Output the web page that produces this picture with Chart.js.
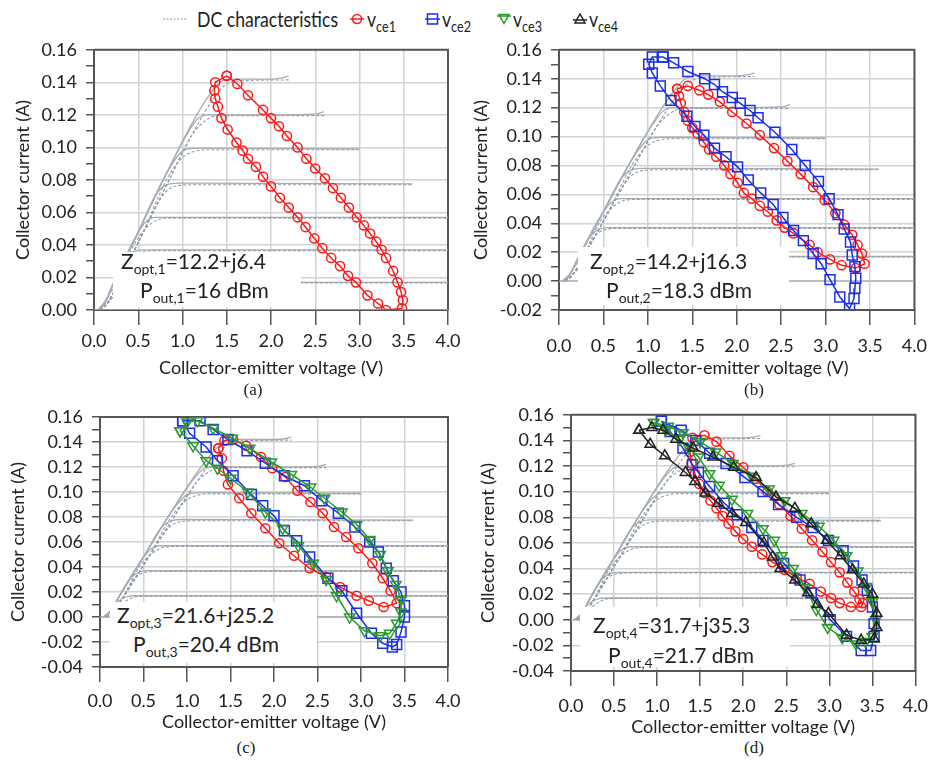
<!DOCTYPE html>
<html>
<head>
<meta charset="utf-8">
<script src="https://cdn.jsdelivr.net/npm/chart.js@4.4.0/dist/chart.umd.min.js"></script>
<style>
  body { margin: 0; background: #fff; width: 937px; height: 761px; position: relative; overflow: hidden; font-family: Lato, sans-serif; color: #222; }
  canvas { position: absolute; }
  .cap { position: absolute; font-family: "Liberation Serif", serif; font-size: 17px; transform: translateX(-50%); line-height: 1; }
  .note { position: absolute; background: #fff; }
  .txt { position: absolute; font-size: 21px; line-height: 1; white-space: nowrap; color: #222; }
  .txt sub { font-size: 14px; vertical-align: -5px; line-height: 1; }
  .leg { position: absolute; top: 8px; height: 26px; white-space: nowrap; font-size: 21px; line-height: 1; }
  .leg svg { position: absolute; top: 4px; left: 0; }
  .leg span { position: absolute; top: 0; transform: scaleX(0.84); transform-origin: left top; }
  .leg sub { font-size: 15px; vertical-align: -5px; line-height: 1; }
</style>
</head>
<body>

<div class="leg" style="left:160px"><svg width="32" height="16"><line x1="3" y1="7" x2="28" y2="7" stroke="#b4bec8" stroke-width="1.5" stroke-dasharray="2,1.5"/></svg><span style="left:37px">DC characteristics</span></div>
<div class="leg" style="left:349px"><svg width="18" height="16"><line x1="1" y1="7" x2="15" y2="7" stroke="#ff1a1a" stroke-width="1.5"/><circle cx="8" cy="7" r="4.5" fill="none" stroke="#ff1a1a" stroke-width="1.5"/></svg><span style="left:18px">v<sub>ce1</sub></span></div>
<div class="leg" style="left:424px"><svg width="18" height="16"><line x1="1" y1="7" x2="16" y2="7" stroke="#1a2fe6" stroke-width="1.5"/><rect x="3.5" y="2" width="10" height="10" fill="none" stroke="#1a2fe6" stroke-width="1.5"/></svg><span style="left:18px">v<sub>ce2</sub></span></div>
<div class="leg" style="left:496px"><svg width="18" height="16"><line x1="1" y1="4" x2="15" y2="4" stroke="#2a9a2a" stroke-width="1.5"/><polygon points="3,2.5 13,2.5 8,11.5" fill="none" stroke="#2a9a2a" stroke-width="1.5"/></svg><span style="left:17px">v<sub>ce3</sub></span></div>
<div class="leg" style="left:572px"><svg width="18" height="16"><line x1="1" y1="8" x2="15" y2="8" stroke="#222" stroke-width="1.5"/><polygon points="8,2 13,11 3,11" fill="none" stroke="#222" stroke-width="1.5"/></svg><span style="left:17px">v<sub>ce4</sub></span></div>

<canvas id="chartA" width="470" height="350" style="left:0;top:30px"></canvas>
<canvas id="chartB" width="467" height="350" style="left:470px;top:30px"></canvas>
<canvas id="chartC" width="470" height="340" style="left:0;top:395px"></canvas>
<canvas id="chartD" width="467" height="343" style="left:470px;top:395px"></canvas>

<div class="note" style="left:113px;top:252px;width:188px;height:55px"></div>
<div class="txt" style="left:121px;top:250px">Z<sub>opt,1</sub>=12.2+j6.4</div>
<div class="txt" style="left:140px;top:279px">P<sub>out,1</sub>=16 dBm</div>

<div class="note" style="left:578px;top:247px;width:211px;height:58px"></div>
<div class="txt" style="left:590px;top:250px">Z<sub>opt,2</sub>=14.2+j16.3</div>
<div class="txt" style="left:606px;top:279px">P<sub>out,2</sub>=18.3 dBm</div>

<div class="note" style="left:110px;top:602px;width:207px;height:61px"></div>
<div class="txt" style="left:117px;top:604px">Z<sub>opt,3</sub>=21.6+j25.2</div>
<div class="txt" style="left:133px;top:633px">P<sub>out,3</sub>=20.4 dBm</div>

<div class="note" style="left:580px;top:607px;width:210px;height:60px"></div>
<div class="txt" style="left:593px;top:614px">Z<sub>opt,4</sub>=31.7+j35.3</div>
<div class="txt" style="left:608px;top:644px">P<sub>out,4</sub>=21.7 dBm</div>

<div class="cap" style="left:253px;top:381px">(a)</div>
<div class="cap" style="left:754px;top:381px">(b)</div>
<div class="cap" style="left:246px;top:739px">(c)</div>
<div class="cap" style="left:754px;top:739px">(d)</div>

<script>
// axis ticks
const xTicks = [0, 0.5, 1, 1.5, 2, 2.5, 3, 3.5, 4];
const yMaxAll = 0.16;

// DC characteristics (V, A)
const dcSolid = [
  [[0.04,0],[0.12,0.004],[0.2,0.014],[0.5,0.048],[0.8,0.082],[1.1,0.114],[1.3,0.132],[1.42,0.140],[1.55,0.142],[2.0,0.142],[2.15,0.143],[2.2,0.144]],
  [[0.04,0],[0.12,0.004],[0.2,0.014],[0.5,0.048],[0.8,0.082],[1.05,0.108],[1.18,0.118],[1.3,0.120],[2.0,0.120],[2.5,0.1205],[2.6,0.122]],
  [[0.04,0],[0.12,0.004],[0.2,0.014],[0.5,0.048],[0.8,0.082],[0.95,0.095],[1.05,0.099],[1.2,0.0995],[3.0,0.099]],
  [[0.04,0],[0.12,0.004],[0.2,0.014],[0.5,0.048],[0.7,0.071],[0.82,0.077],[0.95,0.078],[3.6,0.0775]],
  [[0.04,0],[0.12,0.004],[0.2,0.014],[0.45,0.043],[0.58,0.054],[0.7,0.057],[4.0,0.057]],
  [[0.04,0],[0.12,0.004],[0.2,0.014],[0.35,0.031],[0.45,0.036],[0.55,0.037],[4.0,0.037]],
  [[0.04,0],[0.12,0.005],[0.2,0.012],[0.3,0.016],[0.4,0.017],[4.0,0.017]],
  [[0,0],[4,0]]
];
const dcDashed = [
  [[0.07,0],[0.15,0.004],[0.25,0.014],[0.55,0.047],[0.85,0.080],[1.15,0.112],[1.35,0.130],[1.5,0.139],[1.7,0.141],[2.2,0.1415]],
  [[0.07,0],[0.15,0.004],[0.25,0.014],[0.55,0.047],[0.85,0.080],[1.1,0.107],[1.25,0.116],[1.4,0.1195],[2.6,0.1195]],
  [[0.07,0],[0.15,0.004],[0.25,0.014],[0.55,0.047],[0.8,0.078],[0.95,0.091],[1.1,0.097],[1.3,0.0985],[3.0,0.0985]],
  [[0.07,0],[0.15,0.004],[0.25,0.014],[0.55,0.047],[0.8,0.072],[0.95,0.0765],[1.1,0.077],[3.6,0.077]],
  [[0.07,0],[0.15,0.004],[0.25,0.014],[0.45,0.040],[0.6,0.051],[0.75,0.056],[0.9,0.0565],[4.0,0.0565]],
  [[0.07,0],[0.15,0.004],[0.25,0.014],[0.4,0.031],[0.55,0.036],[0.7,0.0365],[4.0,0.0365]],
  [[0.07,0],[0.15,0.004],[0.3,0.013],[0.45,0.0165],[0.6,0.0167],[4.0,0.0167]]
];

// (a) Zopt,1
const aV1 = [1.50,1.62,1.74,1.91,2.00,2.09,2.18,2.30,2.40,2.50,2.61,2.70,2.79,2.88,2.97,3.05,3.12,3.19,3.25,3.30,3.38,3.43,3.47,3.49,3.48,3.30,3.21,3.09,2.96,2.87,2.78,2.68,2.58,2.49,2.39,2.30,2.20,2.10,2.00,1.91,1.83,1.74,1.68,1.61,1.51,1.44,1.40,1.37,1.36,1.37,1.50];
const aI1 = [0.144,0.139,0.132,0.123,0.118,0.113,0.107,0.100,0.093,0.087,0.081,0.075,0.069,0.063,0.057,0.052,0.047,0.042,0.037,0.032,0.024,0.017,0.011,0.006,0.001,0.000,0.004,0.009,0.017,0.021,0.027,0.032,0.038,0.044,0.051,0.057,0.063,0.069,0.076,0.082,0.088,0.093,0.098,0.103,0.111,0.118,0.125,0.130,0.135,0.140,0.144];

// (b) Zopt,2
const bV1 = [1.33,1.45,1.58,1.68,1.81,1.95,2.11,2.26,2.42,2.57,2.72,2.86,2.99,3.11,3.21,3.30,3.36,3.41,3.44,3.34,3.18,3.05,2.91,2.82,2.64,2.54,2.45,2.35,2.26,2.17,2.08,2.01,1.93,1.86,1.77,1.69,1.63,1.56,1.50,1.45,1.41,1.37,1.35,1.33];
const bI1 = [0.133,0.135,0.132,0.129,0.124,0.117,0.109,0.101,0.092,0.083,0.074,0.065,0.056,0.047,0.039,0.032,0.025,0.019,0.012,0.009,0.011,0.015,0.020,0.025,0.033,0.037,0.042,0.048,0.052,0.057,0.061,0.068,0.074,0.080,0.086,0.091,0.096,0.102,0.106,0.111,0.117,0.123,0.128,0.133];
const bV2 = [1.17,1.29,1.45,1.64,1.75,1.84,1.95,2.04,2.15,2.24,2.43,2.62,2.77,2.92,3.04,3.14,3.21,3.28,3.30,3.33,3.34,3.33,3.32,3.27,3.16,3.05,2.95,2.86,2.75,2.64,2.52,2.41,2.27,2.13,2.01,1.88,1.75,1.63,1.53,1.44,1.26,1.14,1.05,1.01,1.05,1.17];
const bI2 = [0.155,0.151,0.145,0.140,0.136,0.131,0.127,0.123,0.118,0.113,0.103,0.091,0.080,0.069,0.057,0.046,0.036,0.027,0.018,0.010,0.002,-0.005,-0.012,-0.019,-0.011,0.001,0.012,0.019,0.028,0.035,0.044,0.053,0.061,0.070,0.079,0.086,0.092,0.101,0.107,0.114,0.125,0.135,0.144,0.150,0.155,0.155];

// (c) Zopt,3
const cV1 = [1.36,1.43,1.53,1.68,1.85,1.98,2.13,2.27,2.42,2.56,2.69,2.83,2.97,3.13,3.25,3.34,3.41,3.26,3.09,2.95,2.76,2.60,2.41,2.23,2.06,1.90,1.74,1.60,1.47,1.42,1.40,1.36];
const cI1 = [0.135,0.141,0.142,0.137,0.128,0.119,0.112,0.101,0.092,0.083,0.072,0.064,0.055,0.043,0.031,0.021,0.011,0.008,0.013,0.017,0.024,0.032,0.039,0.049,0.059,0.071,0.083,0.095,0.106,0.117,0.127,0.135];
const cV2 = [0.95,1.15,1.30,1.47,1.69,1.90,2.12,2.35,2.55,2.74,2.93,3.10,3.20,3.29,3.37,3.46,3.50,3.50,3.46,3.41,3.36,3.25,3.12,2.95,2.78,2.62,2.41,2.26,2.12,2.00,1.87,1.74,1.53,1.35,1.22,1.03,0.95];
const cI2 = [0.157,0.157,0.150,0.142,0.133,0.123,0.113,0.105,0.093,0.083,0.072,0.060,0.052,0.039,0.029,0.020,0.009,0.000,-0.012,-0.022,-0.024,-0.021,-0.013,0.003,0.021,0.031,0.048,0.061,0.069,0.081,0.089,0.098,0.113,0.125,0.136,0.147,0.157];
const cV3 = [0.92,1.00,1.12,1.30,1.52,1.72,1.97,2.20,2.42,2.58,2.78,2.95,3.10,3.22,3.31,3.40,3.46,3.46,3.41,3.33,3.22,3.04,2.87,2.72,2.60,2.45,2.28,2.10,1.90,1.70,1.50,1.35,1.22,1.07,0.92];
const cI3 = [0.149,0.156,0.157,0.151,0.143,0.135,0.124,0.114,0.104,0.095,0.084,0.074,0.062,0.050,0.037,0.026,0.014,0.004,-0.005,-0.013,-0.015,-0.011,0.000,0.017,0.030,0.043,0.057,0.071,0.084,0.100,0.111,0.119,0.125,0.137,0.149];

// (d) Zopt,4
const dV1 = [1.38,1.41,1.55,1.69,1.84,2.00,2.14,2.28,2.42,2.55,2.68,2.80,2.92,3.02,3.12,3.21,3.29,3.35,3.39,3.37,3.25,3.12,3.02,2.90,2.77,2.62,2.48,2.34,2.22,2.10,2.00,1.91,1.83,1.76,1.69,1.62,1.55,1.49,1.44,1.40,1.38];
const dI1 = [0.131,0.142,0.144,0.139,0.128,0.119,0.110,0.100,0.090,0.081,0.071,0.062,0.053,0.045,0.037,0.029,0.022,0.016,0.013,0.010,0.010,0.013,0.017,0.022,0.028,0.033,0.039,0.045,0.051,0.057,0.063,0.069,0.075,0.081,0.087,0.093,0.099,0.106,0.114,0.122,0.131];
const dV2 = [1.05,1.28,1.45,1.61,1.80,2.02,2.23,2.41,2.62,2.81,2.99,3.16,3.28,3.38,3.44,3.50,3.52,3.52,3.48,3.37,3.20,3.01,2.79,2.66,2.47,2.23,2.10,1.93,1.78,1.61,1.48,1.41,1.30,1.15,1.05];
const dI2 = [0.155,0.148,0.140,0.130,0.122,0.111,0.100,0.090,0.080,0.072,0.062,0.054,0.042,0.031,0.023,0.010,-0.003,-0.013,-0.024,-0.024,-0.013,0.000,0.021,0.031,0.044,0.062,0.072,0.082,0.091,0.104,0.115,0.121,0.134,0.147,0.155];
const dV3 = [0.96,1.13,1.30,1.50,1.68,1.88,2.10,2.30,2.48,2.68,2.88,3.05,3.20,3.33,3.43,3.50,3.54,3.50,3.42,3.31,3.15,2.98,2.85,2.72,2.58,2.45,2.36,2.23,2.05,1.87,1.72,1.61,1.48,1.37,1.26,1.10,0.96];
const dI3 = [0.154,0.151,0.146,0.139,0.131,0.122,0.112,0.102,0.093,0.083,0.073,0.062,0.050,0.038,0.026,0.014,0.000,-0.013,-0.017,-0.019,-0.014,-0.006,0.008,0.025,0.040,0.050,0.062,0.071,0.083,0.094,0.105,0.114,0.127,0.134,0.141,0.148,0.154];
const dV4 = [0.79,0.94,1.07,1.22,1.42,1.65,1.89,2.15,2.38,2.60,2.79,2.97,3.13,3.27,3.40,3.50,3.55,3.55,3.52,3.37,3.20,2.99,2.86,2.75,2.60,2.43,2.34,2.24,2.03,1.87,1.71,1.56,1.44,1.33,1.09,0.92,0.79];
const dI4 = [0.148,0.150,0.148,0.141,0.134,0.127,0.119,0.111,0.096,0.087,0.075,0.062,0.050,0.039,0.028,0.020,0.005,-0.006,-0.015,-0.016,-0.012,0.005,0.012,0.021,0.031,0.040,0.049,0.060,0.076,0.083,0.091,0.099,0.108,0.115,0.128,0.137,0.148];

const seriesStyle = {
  vce1: { color: '#ff1a1a', pointStyle: 'circle', radius: 4.6, rotation: 0 },
  vce2: { color: '#1a2fe6', pointStyle: 'rect', radius: 7, rotation: 0 },
  vce3: { color: '#2a9a2a', pointStyle: 'triangle', radius: 6, rotation: 180 },
  vce4: { color: '#222222', pointStyle: 'triangle', radius: 6, rotation: 0 }
};

function zip(xs, ys) {
  return xs.map((x, i) => ({ x: x, y: ys[i] }));
}

function loop(name, xs, ys) {
  const s = seriesStyle[name];
  return {
    label: name,
    data: zip(xs, ys),
    showLine: true,
    tension: 0,
    borderColor: s.color,
    borderWidth: 1.5,
    pointStyle: s.pointStyle,
    pointRotation: s.rotation,
    pointRadius: s.radius,
    pointBorderColor: s.color,
    pointBorderWidth: 1.5,
    pointBackgroundColor: 'rgba(0,0,0,0)'
  };
}

function dcSets() {
  const out = [];
  dcDashed.forEach(c => out.push({
    data: c, showLine: true, pointRadius: 0, borderColor: '#8e9db0', borderWidth: 1.1,
    borderDash: [3, 2], cubicInterpolationMode: 'monotone'
  }));
  dcSolid.forEach(c => out.push({
    data: c, showLine: true, pointRadius: 0, borderColor: '#a9adb2', borderWidth: 1.3,
    cubicInterpolationMode: 'monotone'
  }));
  return out;
}

function isMajor(v) {
  return Math.abs(Math.round(v * 100)) % 2 === 0;
}

// top and right edges of the box
const framePlugin = {
  id: 'frame',
  beforeDatasetsDraw(chart) {
    const a = chart.chartArea, ctx = chart.ctx;
    ctx.save();
    ctx.strokeStyle = '#555';
    ctx.lineWidth = 2;
    ctx.beginPath();
    ctx.moveTo(a.left, a.top);
    ctx.lineTo(a.right, a.top);
    ctx.lineTo(a.right, a.bottom);
    ctx.stroke();
    ctx.restore();
  }
};

function makePanel(id, p, loops) {
  const ctx = document.getElementById(id).getContext('2d');
  new Chart(ctx, {
    type: 'scatter',
    data: { datasets: loops.concat(dcSets()) },
    options: {
      responsive: false,
      animation: false,
      events: [],
      layout: { padding: { left: p.padL, top: p.padT, right: p.padR, bottom: 0 } },
      plugins: { legend: { display: false }, tooltip: { enabled: false } },
      scales: {
        x: {
          type: 'linear', min: 0, max: 4,
          afterBuildTicks: s => { s.ticks = xTicks.map(v => ({ value: v })); },
          afterFit: s => { s.height = p.xH; },
          ticks: {
            callback: v => v.toFixed(1), padding: p.xTickPad, maxRotation: 0, autoSkip: false,
            font: { family: 'Lato', size: 18 }, color: '#222'
          },
          grid: { color: '#d2d2d2', lineWidth: 1.5, tickLength: 15, tickColor: '#555', tickWidth: 1.5 },
          border: { color: '#555', width: 2 },
          title: {
            display: true, text: 'Collector-emitter voltage (V)', color: '#222',
            font: { family: 'Lato', size: 18 }, padding: { top: 0, bottom: p.xTitlePad }
          }
        },
        y: {
          type: 'linear', min: p.yMin, max: yMaxAll,
          afterFit: s => { s.width = p.yW; },
          ticks: {
            stepSize: 0.01, autoSkip: false, padding: 9,
            callback: v => isMajor(v) ? (Math.abs(v) < 1e-9 ? '0.00' : v.toFixed(2)) : '',
            font: { family: 'Lato', size: 18 }, color: '#222'
          },
          grid: {
            color: c => (c.tick && isMajor(c.tick.value)) ? '#d2d2d2' : 'rgba(0,0,0,0)',
            lineWidth: 1.5, tickLength: 8, tickColor: '#555', tickWidth: 1.5
          },
          border: { color: '#555', width: 2 },
          title: {
            display: true, text: 'Collector current (A)', color: '#222',
            font: { family: 'Lato', size: 18 }, padding: { top: p.yTitlePad, bottom: 0 }
          }
        }
      }
    },
    plugins: [framePlugin]
  });
}

makePanel('chartA', { padL: 10, padT: 14, padR: 22, yW: 84, xH: 70, yMin: 0, xTickPad: 5, xTitlePad: 1, yTitlePad: 2 },
  [loop('vce1', aV1, aI1)]);
makePanel('chartB', { padL: 0, padT: 19, padR: 14, yW: 89, xH: 70, yMin: -0.02, xTickPad: 10, xTitlePad: 1, yTitlePad: 0 },
  [loop('vce2', bV2, bI2), loop('vce1', bV1, bI1)]);
makePanel('chartC', { padL: 5, padT: 22, padR: 22, yW: 95, xH: 68, yMin: -0.04, xTickPad: 8, xTitlePad: 2, yTitlePad: 2 },
  [loop('vce3', cV3, cI3), loop('vce2', cV2, cI2), loop('vce1', cV1, cI1)]);
makePanel('chartD', { padL: 5, padT: 19, padR: 9, yW: 96, xH: 67, yMin: -0.04, xTickPad: 9, xTitlePad: 0, yTitlePad: 2 },
  [loop('vce4', dV4, dI4), loop('vce3', dV3, dI3), loop('vce2', dV2, dI2), loop('vce1', dV1, dI1)]);
</script>
</body>
</html>
